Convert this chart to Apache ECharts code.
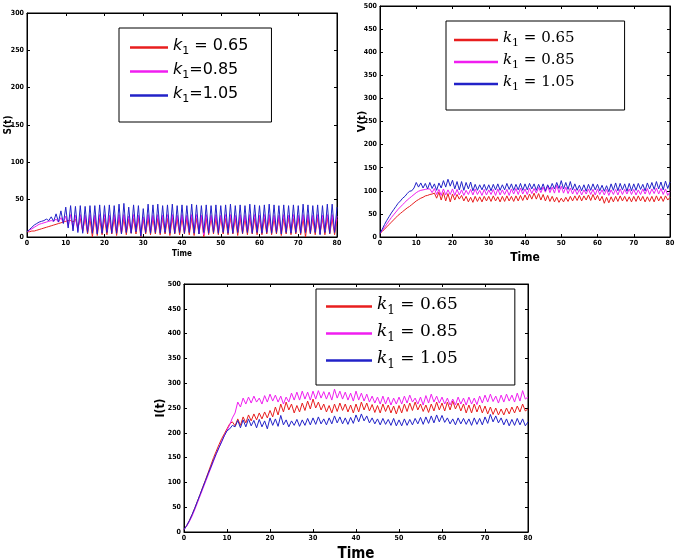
<!DOCTYPE html>
<html>
<head>
<meta charset="utf-8">
<script src="https://cdn.jsdelivr.net/npm/echarts@6/dist/echarts.min.js"></script>
<style>html,body{margin:0;padding:0;background:#fff;}#c{width:678px;height:559px;}</style>
</head>
<body>
<div id="c"></div>
<script>
// ---- time samples (Time axis) ----
const T = [
0,0.625,1.25,1.875,2.5,3.125,3.75,4.375,5,5.625,6.25,6.875,7.5,8.125,8.75,9.375,
10,10.625,11.25,11.875,12.5,13.125,13.75,14.375,15,15.625,16.25,16.875,17.5,18.125,18.75,19.375,
20,20.625,21.25,21.875,22.5,23.125,23.75,24.375,25,25.625,26.25,26.875,27.5,28.125,28.75,29.375,
30,30.625,31.25,31.875,32.5,33.125,33.75,34.375,35,35.625,36.25,36.875,37.5,38.125,38.75,39.375,
40,40.625,41.25,41.875,42.5,43.125,43.75,44.375,45,45.625,46.25,46.875,47.5,48.125,48.75,49.375,
50,50.625,51.25,51.875,52.5,53.125,53.75,54.375,55,55.625,56.25,56.875,57.5,58.125,58.75,59.375,
60,60.625,61.25,61.875,62.5,63.125,63.75,64.375,65,65.625,66.25,66.875,67.5,68.125,68.75,69.375,
70,70.625,71.25,71.875,72.5,73.125,73.75,74.375,75,75.625,76.25,76.875,77.5,78.125,78.75,79.375,
80];

// ---- S(t) ----
const S_065 = [
7,7,8,8,9,10,11,12,13,14,15,16,17,18,19,20,
21,22,22,20,24,12,25,8,26,4,25,0,26,2,25,3,
25,3,26,4,25,2,26,4,25,3,24,5,25,4,26,0,
24,4,25,3,26,4,25,3,26,4,25,2,26,4,25,3,
26,4,25,3,26,2,25,4,26,0,25,3,26,4,25,3,
26,4,25,3,26,4,25,2,26,4,25,3,26,4,25,3,
26,3,25,4,26,3,25,4,26,2,25,4,26,3,25,4,
26,3,25,0,26,4,25,3,26,4,25,3,26,4,25,3,
24];
const S_085 = [
7,9,11,13,15,17,18,19,20,21,22,21,24,20,26,19,
28,14,30,10,29,8,30,7,29,8,30,7,29,6,30,7,
30,8,29,7,30,7,30,6,30,8,28,7,30,8,29,4,
27,8,30,7,29,8,30,7,29,8,30,7,30,7,29,8,
30,7,29,8,30,7,30,6,29,3,30,7,29,8,30,7,
29,8,30,7,30,7,29,8,30,7,29,8,30,7,30,8,
29,7,30,8,30,7,29,8,29,6,30,8,29,7,30,8,
29,7,30,8,30,7,29,8,30,5,29,8,30,7,30,8,
28];
const S_105 = [
7,10,13,16,18,20,21,22,24,22,27,21,31,20,35,18,
40,12,42,8,41,6,42,5,41,6,42,5,42,4,43,5,
42,6,43,5,42,5,44,4,45,6,40,5,43,7,42,1,
38,6,44,5,43,6,44,5,42,6,43,5,44,5,42,6,
43,5,42,6,44,5,43,4,42,6,43,5,42,6,43,5,
42,6,43,5,44,5,42,6,43,5,42,6,44,5,43,6,
42,5,43,6,44,5,43,6,42,4,43,6,42,5,43,6,
42,5,44,6,43,5,42,6,43,3,42,6,44,5,44,6,
40];

// ---- V(t) ----
const V_065 = [
8,12,17,22,27,32,37,42,47,51,55,59,63,66,70,74,
78,81,84,86,89,90,92,93,95,84,97,80,96,78,94,76,
93,80,92,82,90,78,88,76,86,75,88,77,87,76,88,78,
88,77,89,78,87,76,88,77,89,78,88,77,89,78,90,79,
91,80,93,82,95,82,94,80,92,78,90,77,88,76,86,75,
84,76,86,77,88,78,89,79,90,78,89,80,91,79,92,80,
90,78,88,73,86,74,87,76,88,77,89,78,88,77,87,76,
88,77,89,78,88,76,87,77,88,76,89,78,88,77,89,80,
86];
const V_085 = [
8,14,21,28,35,42,48,54,60,65,70,75,80,84,88,92,
96,99,101,102,103,104,104,96,105,92,103,90,104,91,102,92,
104,90,103,91,102,90,101,92,103,91,104,92,101,90,103,91,
102,92,103,90,104,91,102,92,103,90,104,93,105,92,106,93,
104,92,106,94,105,95,107,96,108,97,110,96,108,95,112,96,
110,95,108,94,106,93,104,92,103,91,102,93,104,92,103,91,
104,92,102,91,103,90,102,92,103,91,104,92,103,93,104,92,
103,91,102,92,104,93,105,92,104,94,106,93,105,92,104,90,
98];
const V_105 = [
8,17,27,36,44,52,59,66,73,78,84,88,94,99,100,106,
118,108,117,106,116,104,118,105,115,101,117,106,122,108,125,110,
123,104,120,102,120,101,118,104,119,100,114,101,113,102,114,101,
113,100,114,102,115,101,113,102,116,103,115,101,114,102,116,101,
115,102,116,104,115,101,114,102,115,100,113,103,116,104,118,105,
122,104,118,103,120,102,115,101,112,100,113,99,114,101,115,102,
114,100,112,99,111,98,115,101,117,100,116,102,115,99,116,100,
115,101,116,103,114,100,117,104,118,103,120,104,119,102,121,105,
119];

// ---- I(t) ----
const I_065 = [
5,13,23,35,48,62,76,91,105,120,135,150,163,176,188,198,
208,218,222,214,228,215,232,220,236,224,238,226,240,228,242,230,
245,232,252,236,258,242,262,246,258,240,255,242,260,245,264,248,
268,250,262,246,258,242,255,240,258,243,260,245,258,242,256,240,
258,242,262,246,260,244,257,241,255,240,258,243,256,240,254,238,
255,240,258,243,260,245,262,246,258,243,256,241,258,244,262,246,
260,244,262,246,264,248,260,244,258,240,256,240,258,242,256,240,
254,238,252,237,250,236,248,236,250,238,252,240,254,242,258,244,
248];
const I_085 = [
5,12,21,32,45,59,73,87,101,115,129,143,157,170,182,194,
205,216,230,240,262,252,270,258,272,260,274,262,270,258,275,262,
278,264,276,262,274,258,272,262,280,266,282,266,284,268,282,266,
284,268,285,270,283,268,282,266,288,270,284,268,282,266,280,264,
284,266,280,264,278,262,274,260,272,258,274,258,272,256,270,258,
272,258,274,260,276,262,270,258,272,256,275,260,278,262,274,260,
272,258,270,256,268,256,272,258,270,256,272,258,270,257,274,260,
276,262,278,263,274,260,276,262,278,264,276,262,280,264,285,268,
272];
const I_105 = [
5,13,23,35,48,62,76,90,104,118,131,145,158,170,182,194,
204,208,215,212,225,210,226,212,228,214,225,210,227,212,224,208,
230,215,228,213,235,216,226,212,224,215,227,213,226,215,229,216,
230,217,232,218,228,216,230,218,234,220,232,218,230,217,231,219,
236,222,238,224,234,220,230,218,228,216,229,217,227,215,229,214,
226,214,228,215,227,216,229,218,231,217,232,219,234,220,236,222,
235,221,230,218,228,216,230,218,229,217,228,215,230,217,229,216,
232,219,237,222,234,220,230,216,228,214,227,215,229,216,228,214,
222];

const seriesNames = ['k1 = 0.65', 'k1 = 0.85', 'k1 = 1.05'];
const legendTextS = ['{k|k}{s|1}{t| = 0.65}', '{k|k}{s|1}{t|=0.85}', '{k|k}{s|1}{t|=1.05}'];
const legendTextM = ['{k|k}{s|1}{t| = 0.65}', '{k|k}{s|1}{t| = 0.85}', '{k|k}{s|1}{t| = 1.05}'];
const panelTitles = ['S(t)', 'V(t)', 'I(t)'];
const xName = 'Time';
const yMax = [300, 500, 500];

const colors = ['#e81e1e', '#f01ef0', '#2222c8'];
const narrow = "'Liberation Sans Narrow','DejaVu Sans Condensed','Liberation Sans',Arial,sans-serif";

const panels = [
  {data: [S_065, S_085, S_105]},
  {data: [V_065, V_085, V_105]},
  {data: [I_065, I_085, I_105]}
];

const grids = [
  {left: 27, top: 13, width: 310, height: 224},
  {left: 380, top: 6, width: 290, height: 231},
  {left: 184, top: 284, width: 344, height: 248}
];
const xNameCfg = [{size: 8, gap: 13}, {size: 12, gap: 15}, {size: 15, gap: 15}];
const yNameCfg = [{size: 10, gap: 14}, {size: 11, gap: 12}, {size: 12, gap: 17}];
const tickFont = 7;

const xAxes = [], yAxes = [], series = [];
for (let g = 0; g < 3; g++) {
  xAxes.push({
    type: 'value', gridIndex: g, min: 0, max: 80, interval: 10, position: 'bottom',
    name: xName, nameLocation: 'middle', nameGap: xNameCfg[g].gap, nameMoveOverlap: false,
    nameTextStyle: {fontFamily: narrow, fontWeight: 'bold', fontSize: xNameCfg[g].size, color: '#000'},
    axisLine: {show: true, onZero: false, lineStyle: {color: '#000', width: 1}},
    axisTick: {show: true, inside: true, length: 3, lineStyle: {color: '#000'}},
    axisLabel: {fontFamily: narrow, fontWeight: 'bold', fontSize: tickFont, color: '#000', margin: 3},
    splitLine: {show: false}
  });
  xAxes.push({
    type: 'value', gridIndex: g, min: 0, max: 80, interval: 10, position: 'top',
    axisLine: {show: true, onZero: false, lineStyle: {color: '#000', width: 1}},
    axisTick: {show: true, inside: true, length: 3, lineStyle: {color: '#000'}},
    axisLabel: {show: false}, splitLine: {show: false}
  });
  yAxes.push({
    type: 'value', gridIndex: g, min: 0, max: yMax[g], interval: 50, position: 'left',
    name: panelTitles[g], nameLocation: 'middle', nameGap: yNameCfg[g].gap, nameRotate: 90,
    nameMoveOverlap: false,
    nameTextStyle: {fontFamily: narrow, fontWeight: 'bold', fontSize: yNameCfg[g].size, color: '#000'},
    axisLine: {show: true, onZero: false, lineStyle: {color: '#000', width: 1}},
    axisTick: {show: true, inside: true, length: 3, lineStyle: {color: '#000'}},
    axisLabel: {fontFamily: narrow, fontWeight: 'bold', fontSize: tickFont, color: '#000', margin: 3},
    splitLine: {show: false}
  });
  yAxes.push({
    type: 'value', gridIndex: g, min: 0, max: yMax[g], interval: 50, position: 'right',
    axisLine: {show: true, onZero: false, lineStyle: {color: '#000', width: 1}},
    axisTick: {show: true, inside: true, length: 3, lineStyle: {color: '#000'}},
    axisLabel: {show: false}, splitLine: {show: false}
  });
  for (let s = 0; s < 3; s++) {
    const vals = panels[g].data[s];
    series.push({
      type: 'line', name: seriesNames[s], xAxisIndex: 2 * g, yAxisIndex: 2 * g,
      data: T.map((t, i) => [t, vals[i]]),
      showSymbol: false, symbol: 'none', smooth: false,
      lineStyle: {color: colors[s], width: 1}, itemStyle: {color: colors[s]},
      animation: false, z: 2 + s
    });
  }
}

function makeLegend(pos, texts, font, size, subSize, lh, pad, gap, itemW, padding) {
  return {
    left: pos[0], top: pos[1], orient: 'vertical', data: seriesNames,
    icon: 'rect', itemWidth: itemW, itemHeight: 2.5, itemGap: gap,
    backgroundColor: '#fff', borderColor: '#000', borderWidth: 1, padding: padding,
    selectedMode: false,
    formatter: name => texts[seriesNames.indexOf(name)],
    textStyle: {
      color: '#000', fontFamily: font, fontSize: size,
      rich: {
        k: {fontFamily: font, fontSize: size, fontStyle: 'italic', lineHeight: lh, padding: [0, 0, pad, 0], color: '#000'},
        s: {fontFamily: font, fontSize: subSize, lineHeight: subSize, verticalAlign: 'bottom', color: '#000'},
        t: {fontFamily: font, fontSize: size, lineHeight: lh, padding: [0, 0, pad, 0], color: '#000'}
      }
    }
  };
}

const option = {
  backgroundColor: '#fff',
  animation: false,
  grid: grids.map(g => Object.assign({show: true, borderColor: '#000', borderWidth: 1, backgroundColor: '#fff', outerBoundsMode: 'none', containLabel: false}, g)),
  xAxis: xAxes,
  yAxis: yAxes,
  legend: [
    makeLegend([119, 28], legendTextS, "'DejaVu Sans',sans-serif", 16, 11, 18, 3, 5, 38, [10, 23, 17, 11]),
    makeLegend([446, 21], legendTextM, "'DejaVu Serif',serif", 15, 11, 18, 3, 4, 44, [10, 50, 17, 8]),
    makeLegend([316, 289], legendTextM, "'DejaVu Serif',serif", 17, 12, 20, 4, 6, 46, [7, 57, 14, 10])
  ],
  series: series
};

const chart = echarts.init(document.getElementById('c'), null, {renderer: 'canvas'});
chart.setOption(option);
</script>
</body>
</html>
